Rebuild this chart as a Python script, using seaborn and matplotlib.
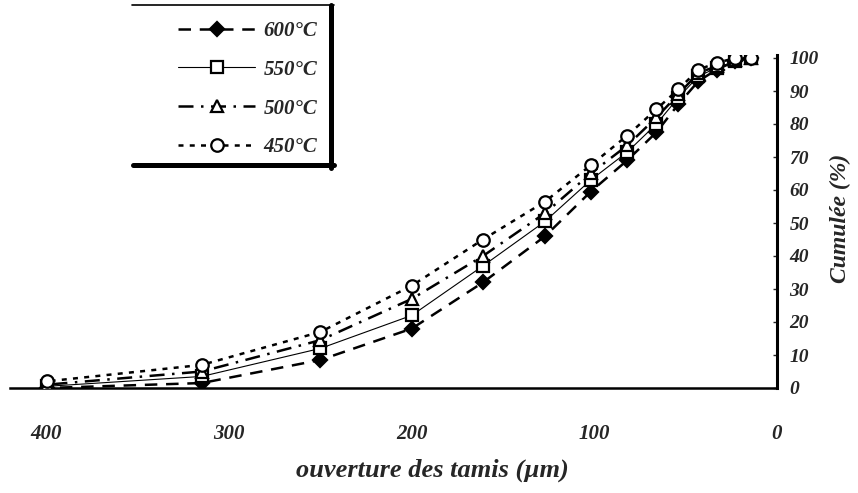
import matplotlib
matplotlib.use("Agg")
import matplotlib.pyplot as plt
from matplotlib.lines import Line2D
import seaborn as sns
import pandas as pd

# --- data ---
sieve_um = [400, 315, 250, 200, 161, 127, 102, 82, 66, 54, 43, 33, 23, 14]
cum_600 = [0, 1.5, 8.5, 18, 32, 46, 59.5, 69, 77.5, 86, 93, 96.5, 99, 100]
cum_550 = [0.5, 3.5, 12, 22, 37, 50.5, 63, 71.5, 80, 88, 94.5, 97, 99, 100]
cum_500 = [1, 5, 14.5, 27, 40, 53, 65, 73.5, 82, 89, 95.5, 97.5, 99.5, 100]
cum_450 = [2, 7, 17, 31, 45, 56.5, 67.5, 76.5, 84.5, 90.5, 96.5, 98.5, 100, 100]
series_labels = ["600°C", "550°C", "500°C", "450°C"]
x_ticks = [400, 300, 200, 100, 0]
y_ticks = [0, 10, 20, 30, 40, 50, 60, 70, 80, 90, 100]
x_title = "ouverture des tamis (µm)"
y_title = "Cumulée (%)"

sns.set_style("white")
plt.rcParams["font.family"] = ["Liberation Serif", "DejaVu Serif"]

W, H = 858, 493
fig = plt.figure(figsize=(W / 100, H / 100), dpi=100)
ax = fig.add_axes([10 / W, 105 / H, 767 / W, 333.3 / H])

styles = [
    dict(marker="D", mfc="black", ls=(0, (5, 3.5)), lw=1.8, ms=7, z=3),
    dict(marker="s", mfc="white", ls="-", lw=0.8, ms=8, z=4),
    dict(marker="^", mfc="white", ls=(0, (6, 3, 1, 3)), lw=1.8, ms=8, z=5),
    dict(marker="o", mfc="white", ls=(0, (2, 2.5)), lw=1.8, ms=9, z=6),
]
all_y = [cum_600, cum_550, cum_500, cum_450]

handles = []
for lab, yv, st in zip(series_labels, all_y, styles):
    df = pd.DataFrame({"x": sieve_um, "y": yv})
    sns.lineplot(data=df, x="x", y="y", ax=ax, color="black",
                 marker=st["marker"], markerfacecolor=st["mfc"],
                 markeredgecolor="black", markeredgewidth=1.6,
                 markersize=st["ms"], linestyle=st["ls"], linewidth=st["lw"],
                 zorder=st["z"], label=lab, legend=False)
    handles.append(ax.lines[-1])

if ax.get_legend() is not None:
    ax.get_legend().remove()

ax.set_xlim(420, 0)
ax.set_ylim(0, 101)
ax.set_xticks(x_ticks)
ax.set_yticks(y_ticks)
ax.set_xticklabels([str(t) for t in x_ticks])
ax.set_yticklabels([str(t) for t in y_ticks])
ax.set_xlabel("")
ax.set_ylabel("")

ax.yaxis.tick_right()
for s in ["left", "top"]:
    ax.spines[s].set_visible(False)
ax.spines["right"].set_linewidth(2.2)
ax.spines["bottom"].set_linewidth(1.8)
ax.spines["right"].set_color("black")
ax.spines["bottom"].set_color("black")

ax.tick_params(axis="x", length=0, pad=26, labelsize=15)
ax.tick_params(axis="y", direction="in", length=3, width=1, pad=9,
               labelsize=14, right=True, left=False)
for t in ax.get_xticklabels() + ax.get_yticklabels():
    t.set_fontweight("bold")
    t.set_fontstyle("italic")

fig.text(432 / W, 1 - 470 / H, x_title, ha="center", va="center",
         fontsize=19, fontweight="bold", fontstyle="italic")
fig.text(840 / W, 1 - 218 / H, y_title, ha="center", va="center",
         rotation=90, fontsize=17, fontweight="bold", fontstyle="italic")

leg = fig.legend(handles, series_labels, loc="upper left",
                 bbox_to_anchor=(178 / W, 1 - 21 / H),
                 frameon=False, borderpad=0, borderaxespad=0,
                 handlelength=3.7, handletextpad=0.4, labelspacing=0.9,
                 numpoints=1,
                 prop=dict(family="Liberation Serif", weight="bold",
                           style="italic", size=15))

# legend box: thin top edge, thick right/bottom (shadow)
fig.add_artist(Line2D([132 / W, 334 / W], [1 - 5 / H, 1 - 5 / H],
                      transform=fig.transFigure, color="black", lw=1.2))
fig.add_artist(Line2D([331 / W, 331 / W], [1 - 5 / H, 1 - 168 / H],
                      transform=fig.transFigure, color="black", lw=3.6))
fig.add_artist(Line2D([133 / W, 334 / W], [1 - 165 / H, 1 - 165 / H],
                      transform=fig.transFigure, color="black", lw=3.6))

fig.savefig("out.png", dpi=100)
